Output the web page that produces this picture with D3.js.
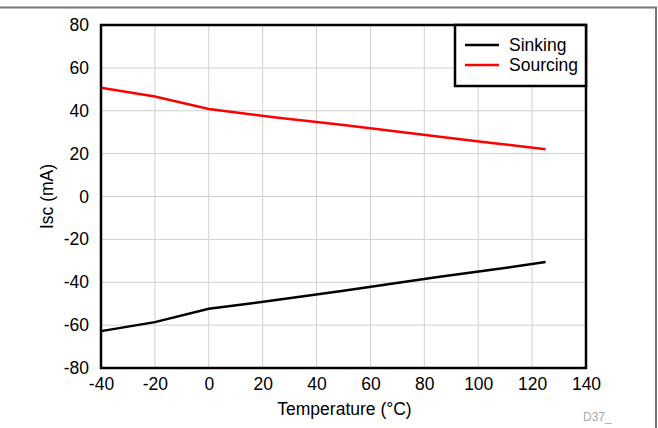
<!DOCTYPE html>
<html><head><meta charset="utf-8">
<script src="https://cdn.jsdelivr.net/npm/d3@7"></script>
<style>body{margin:0;background:#fff}svg{display:block;font-family:"Liberation Sans",Arial,sans-serif}</style>
</head><body><svg id="c" width="658" height="428"></svg>
<script>
const temps = [-40, -20, 0, 25, 50, 85, 105, 125];
const sinking = [-62.8, -58.6, -52.4, -48.3, -44.0, -37.6, -34.2, -30.6];
const sourcing = [50.7, 46.6, 40.8, 36.9, 33.3, 28.0, 25.0, 22.0];
const xTicks = [-40, -20, 0, 20, 40, 60, 80, 100, 120, 140];
const yTicks = [-80, -60, -40, -20, 0, 20, 40, 60, 80];
const seriesNames = ["Sinking", "Sourcing"];
const seriesColors = ["#000000", "#ff0000"];

const FS = 17.5;
const svg = d3.select("#c");
const L = 101, R = 586, T = 25, B = 368;
const x = d3.scaleLinear().domain([-40, 140]).range([L, R]);
const y = d3.scaleLinear().domain([-80, 80]).range([B, T]);
const fmt = d => String(d);

// outer frame
svg.append("path").attr("d", `M0,7.5H656V428`).attr("fill","none").attr("stroke","#777").attr("stroke-width",2);

// grid
svg.append("g").selectAll("line").data(xTicks).join("line")
  .attr("x1", d=>x(d)).attr("x2", d=>x(d)).attr("y1", T).attr("y2", B)
  .attr("stroke", "#d0d0d0").attr("stroke-width", 1);
svg.append("g").selectAll("line").data(yTicks).join("line")
  .attr("y1", d=>y(d)).attr("y2", d=>y(d)).attr("x1", L).attr("x2", R)
  .attr("stroke", "#d0d0d0").attr("stroke-width", 1);

// axes labels via d3 axes
const xa = svg.append("g").attr("transform", `translate(0,${B})`)
  .call(d3.axisBottom(x).tickValues(xTicks).tickSize(0).tickPadding(10).tickFormat(fmt));
xa.select(".domain").remove();
xa.selectAll("text").attr("font-size", FS).attr("fill","#000").attr("font-family","Liberation Sans, Arial, sans-serif");
const ya = svg.append("g").attr("transform", `translate(${L},0)`)
  .call(d3.axisLeft(y).tickValues(yTicks).tickSize(0).tickPadding(12).tickFormat(fmt));
ya.select(".domain").remove();
ya.selectAll("text").attr("font-size", FS).attr("fill","#000").attr("font-family","Liberation Sans, Arial, sans-serif");

// lines
const line = d3.line().x((d,i)=>x(temps[i])).y(d=>y(d));
[sinking, sourcing].forEach((s, i) => {
  svg.append("path").attr("d", line(s)).attr("fill","none")
    .attr("stroke", seriesColors[i]).attr("stroke-width", 2.5);
});

// plot frame
svg.append("rect").attr("x", L).attr("y", T).attr("width", R-L).attr("height", B-T)
  .attr("fill","none").attr("stroke","#000").attr("stroke-width", 2.5);

// legend
const lg = svg.append("g");
lg.append("rect").attr("x", 455).attr("y", T).attr("width", R-455).attr("height", 61)
  .attr("fill","#fff").attr("stroke","#000").attr("stroke-width", 2.5);
seriesNames.forEach((n, i) => {
  const yy = 45 + i*20;
  lg.append("line").attr("x1", 465).attr("x2", 499).attr("y1", yy).attr("y2", yy)
    .attr("stroke", seriesColors[i]).attr("stroke-width", 2.5);
  lg.append("text").attr("x", 509).attr("y", yy+6).attr("font-size", FS).text(n);
});

// titles
svg.append("text").attr("x", (L+R)/2 + 1).attr("y", 415).attr("text-anchor","middle")
  .attr("font-size", FS).text("Temperature (°C)");
svg.append("text").attr("transform", `translate(53,${(T+B)/2}) rotate(-90)`).attr("text-anchor","middle")
  .attr("font-size", FS).text("Isc (mA)");
svg.append("text").attr("x", 583).attr("y", 421).attr("font-size", 12).attr("fill","#aaa").text("D37_");
</script></body></html>
